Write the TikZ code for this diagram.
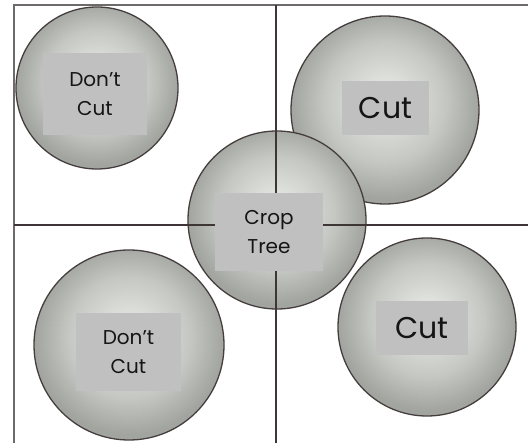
\documentclass[tikz,border=0pt]{standalone}
\usepackage{fontspec}
\setmainfont{Poppins}
\definecolor{ballin}{HTML}{E0E2DE}
\definecolor{ballmid}{HTML}{C4C7C2}
\definecolor{ballout}{HTML}{A2A59F}
\definecolor{edge}{HTML}{463E3E}
\definecolor{framec}{HTML}{6E6A6A}
\definecolor{linec}{HTML}{3E3636}
\definecolor{boxc}{HTML}{C0C0C0}
\definecolor{textc}{HTML}{151515}
\pgfdeclareradialshading{ball}{\pgfpoint{0bp}{3bp}}{color(0bp)=(ballin); color(5bp)=(ballin); color(16bp)=(ballmid); color(25bp)=(ballout); color(50bp)=(ballout)}
\newcommand{\apos}{\char"27\relax}
\tikzset{
  tree/.style={circle, draw=edge, line width=1.3pt, shading=ball, inner sep=0pt},
  labelbox/.style={rectangle, fill=boxc, inner sep=0pt, align=center, text=textc},
  small/.style={font=\fontsize{20}{29.5}\selectfont},
  big/.style={font=\fontsize{30}{36}\selectfont},
}
\begin{document}
\begin{tikzpicture}[x=1pt,y=-1pt]
\useasboundingbox (0,0) rectangle (528,443);
\fill[white] (0,0) rectangle (528,443);
% circles
\node[tree, minimum size=162pt] (c1) at (97,88) {};
\node[tree, minimum size=188pt] (c2) at (385,110) {};
\node[tree, minimum size=190pt] (c4) at (129,345) {};
\node[tree, minimum size=178pt] (c5) at (427,327) {};
\node[tree, minimum size=178pt] (c3) at (277,220) {};
% frame and cross lines
\coordinate (ftl) at (14,5);
\coordinate (ftr) at (528,5);
\coordinate (fbl) at (14,443);
\coordinate (vt) at (276,5);
\coordinate (vb) at (276,443);
\coordinate (hl) at (14,225);
\coordinate (hr) at (528,225);
\draw[framec, line width=1.2pt] (fbl) -- (ftl) -- (ftr);
\draw[linec, line width=1.3pt] (vt) -- (vb);
\draw[linec, line width=2.6pt] (hl) -- (hr);
% label boxes
\node[labelbox, small, minimum width=104pt, minimum height=82pt] (b1) at (95,94) {Don\apos t\\Cut};
\node[labelbox, big, minimum width=87pt, minimum height=54pt] (b2) at (385.5,108) {Cut};
\node[labelbox, small, minimum width=108pt, minimum height=78pt] (b3) at (269,232) {Crop\\Tree};
\node[labelbox, small, minimum width=105pt, minimum height=78pt] (b4) at (128.5,352) {Don\apos t\\Cut};
\node[labelbox, big, minimum width=92pt, minimum height=54pt] (b5) at (422,328) {Cut};
\end{tikzpicture}
\end{document}
